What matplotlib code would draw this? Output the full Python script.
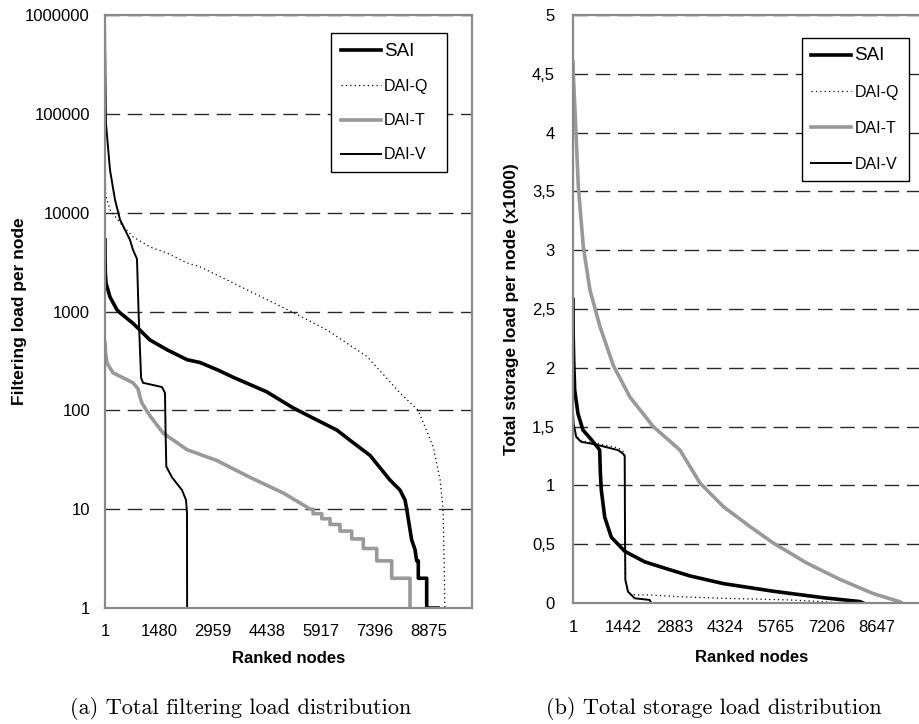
import matplotlib
matplotlib.use("Agg")
import matplotlib.pyplot as plt
from matplotlib.font_manager import FontProperties
from matplotlib.ticker import NullLocator


# ---- (a) filtering load, ranked nodes -> load (log scale)
sai_f_nodes = [1, 3, 10, 28, 138, 330, 412, 768, 1233, 1700, 2250, 2600, 3100, 3500,
               4430, 5150, 5800, 6355, 6800, 7260, 7580, 7807, 8081, 8218, 8265,
               8355, 8400, 8492, 8537, 8582, 8582, 8812, 8812, 9122]
sai_f_load = [5300, 3300, 2450, 1950, 1400, 1040, 970, 760, 515, 410, 325, 305, 255, 217,
              154, 106, 80, 63, 47, 35, 25, 19.7, 15.6, 12.4, 10,
              6.2, 4.9, 3.9, 3, 3, 2, 2, 1, 1]

daiq_f_nodes = [1, 3, 8, 20, 138, 412, 768, 1233, 1700, 2250, 2600, 4050, 5150, 6080,
                7180, 8080, 8580, 8990, 9180, 9260, 9290, 9310]
daiq_f_load = [90000, 50000, 30000, 15000, 10700, 7900, 5700, 4500, 3900, 3100, 2840,
               1550, 980, 650, 350, 150, 100, 42.6, 19.8, 10, 3, 1]

dait_f_nodes = [1, 20, 56, 220, 768, 905, 960, 1015, 1233, 1590, 2247, 3070, 3970, 4880,
                5530, 5619, 5700, 5700, 5940, 5940, 6165, 6165, 6438, 6438, 6758, 6758,
                7076, 7076, 7443, 7443, 7854, 7854, 8355, 8355]
dait_f_load = [480, 380, 300, 240, 190, 165, 136, 118, 88, 59, 40, 31, 21, 14.6,
               10.5, 10, 10, 9, 9, 8, 8, 7, 7, 6, 6, 5,
               5, 4, 4, 3, 3, 2, 2, 1]

daiv_f_nodes = [1, 5, 15, 28, 138, 275, 412, 549, 686, 768, 877, 920, 960, 990, 1042,
                1562, 1644, 1660, 1680, 1836, 2110, 2220, 2247, 2250]
daiv_f_load = [1000000, 500000, 200000, 80000, 27000, 13500, 8500, 6700, 5300, 4200,
               3400, 1000, 400, 213, 190, 172, 150, 60, 27, 21, 15.6, 12.4, 9.1, 1]

# ---- (b) storage load (x1000)
sai_s_nodes = [1, 5, 20, 49, 143, 285, 521, 712, 760, 780, 806, 903, 1090, 1471, 2040,
               2570, 3330, 4276, 5698, 7120, 8163, 8250]
sai_s_load = [2.58, 2.3, 2.07, 1.81, 1.61, 1.47, 1.39, 1.32, 1.30, 1.1, 0.96, 0.73, 0.56,
              0.44, 0.35, 0.30, 0.23, 0.165, 0.10, 0.045, 0.012, 0.0]

daiq_s_nodes = [1, 20, 95, 237, 618, 1281, 1423, 1471, 1480, 1490, 1565, 1700, 2228,
                2987, 4276, 6172, 7120, 7596]
daiq_s_load = [1.55, 1.47, 1.42, 1.38, 1.36, 1.32, 1.29, 1.27, 0.6, 0.2, 0.09, 0.07,
               0.068, 0.054, 0.04, 0.026, 0.011, 0.0]

dait_s_nodes = [1, 10, 86, 152, 294, 484, 769, 1147, 1622, 2285, 3044, 3613, 4276, 5033,
                5698, 6647, 7596, 8541, 9301, 9350]
dait_s_load = [4.6, 4.5, 4.0, 3.54, 3.03, 2.66, 2.35, 2.02, 1.75, 1.50, 1.30, 1.02, 0.82,
               0.65, 0.51, 0.34, 0.20, 0.08, 0.01, 0.0]

daiv_s_nodes = [1, 20, 95, 237, 618, 1281, 1423, 1471, 1480, 1490, 1565, 1756, 2182, 2228]
daiv_s_load = [1.62, 1.52, 1.41, 1.37, 1.35, 1.30, 1.27, 1.25, 0.6, 0.196, 0.096, 0.04,
               0.026, 0.0]

series_names = ["SAI", "DAI-Q", "DAI-T", "DAI-V"]

f_xticks = [1, 1480, 2959, 4438, 5917, 7396, 8875]
f_yticks = [1, 10, 100, 1000, 10000, 100000, 1000000]
s_xticks = [1, 1442, 2883, 4324, 5765, 7206, 8647]
s_yticks = [0, 0.5, 1, 1.5, 2, 2.5, 3, 3.5, 4, 4.5, 5]
s_yticklabels = ["0", "0,5", "1", "1,5", "2", "2,5", "3", "3,5", "4", "4,5", "5"]

STYLES = {
    "SAI": dict(color="black", lw=2.6, ls="-"),
    "DAI-Q": dict(color="black", lw=0.9, ls=(0, (1, 2.5))),
    "DAI-T": dict(color="#999999", lw=2.6, ls="-"),
    "DAI-V": dict(color="black", lw=1.4, ls="-"),
}

FONT = ["Liberation Sans", "DejaVu Sans"]

W, H = 919, 724
fig = plt.figure(figsize=(W / 100, H / 100), dpi=100)


def px_axes(left, top, right, bottom):
    return fig.add_axes([left / W, 1 - bottom / H, (right - left) / W, (bottom - top) / H])


def style_axes(ax, tick_size, ypad, xpad):
    for sp in ax.spines.values():
        sp.set_color("#8a8a8a")
        sp.set_linewidth(1.6)
    ax.tick_params(length=0)
    ax.tick_params(axis="y", pad=ypad)
    ax.tick_params(axis="x", pad=xpad)
    for lab in ax.get_xticklabels() + ax.get_yticklabels():
        lab.set_fontproperties(FontProperties(family=FONT, size=tick_size))
    ax.yaxis.grid(True, color="#2a2a2a", lw=1.0, ls=(0, (10.5, 5.5)))
    ax.xaxis.grid(False)


def add_legend(ax, x0, top, width, row_gap, size):
    leg = ax.legend(loc="upper left", bbox_to_anchor=(x0, top - 0.3, width, 0.3),
                    mode="expand", borderaxespad=0, fancybox=False, framealpha=1,
                    edgecolor="black", handlelength=2.5, handletextpad=0.2,
                    labelspacing=row_gap, borderpad=0.6,
                    prop=FontProperties(family=FONT, size=size))
    leg.get_frame().set_linewidth(1.0)
    leg.get_texts()[0].set_fontproperties(FontProperties(family=FONT, size=size + 2))
    return leg


# ---------------- (a)
ax1 = px_axes(105, 15, 472, 608)
f_data = {
    "SAI": (sai_f_nodes, sai_f_load),
    "DAI-Q": (daiq_f_nodes, daiq_f_load),
    "DAI-T": (dait_f_nodes, dait_f_load),
    "DAI-V": (daiv_f_nodes, daiv_f_load),
}
for name in series_names:
    xs, ys = f_data[name]
    ax1.plot(xs, ys, label=name, **STYLES[name])
ax1.set_yscale("log")
ax1.set_ylim(1, 1000000)
ax1.set_xlim(1, 10053)
ax1.set_yticks(f_yticks)
ax1.set_yticklabels([str(v) for v in f_yticks])
ax1.yaxis.set_minor_locator(NullLocator())
ax1.set_xticks(f_xticks)
ax1.set_xticklabels([str(v) for v in f_xticks])
style_axes(ax1, 12, 10.8, 11.3)
ax1.set_ylabel("Filtering load per node", fontsize=12.5, fontweight="bold",
               family=FONT, rotation=90, ha="center", va="center")
ax1.yaxis.set_label_coords(-0.234, 0.5)
ax1.set_xlabel("Ranked nodes", fontsize=12, fontweight="bold", family=FONT,
               ha="center", va="center")
ax1.xaxis.set_label_coords(0.5, -0.086)
add_legend(ax1, 0.6158, 0.9691, 0.3153, 1.2, 11.5)

# ---------------- (b)
ax2 = px_axes(573, 15, 930, 603)
s_data = {
    "SAI": (sai_s_nodes, sai_s_load),
    "DAI-Q": (daiq_s_nodes, daiq_s_load),
    "DAI-T": (dait_s_nodes, dait_s_load),
    "DAI-V": (daiv_s_nodes, daiv_s_load),
}
for name in series_names:
    xs, ys = s_data[name]
    ax2.plot(xs, ys, label=name, **STYLES[name])
ax2.set_ylim(0, 5)
ax2.set_xlim(1, 10154)
ax2.set_yticks(s_yticks)
ax2.set_yticklabels(s_yticklabels)
ax2.set_xticks(s_xticks)
ax2.set_xticklabels([str(v) for v in s_xticks])
style_axes(ax2, 12, 13, 12)
ax2.set_ylabel("Total storage load per node (x1000)", fontsize=12.5, fontweight="bold",
               family=FONT, rotation=90, ha="center", va="center")
ax2.yaxis.set_label_coords(-0.171, 0.5)
ax2.set_xlabel("Ranked nodes", fontsize=12, fontweight="bold", family=FONT,
               ha="center", va="center")
ax2.xaxis.set_label_coords(0.5, -0.0927)
add_legend(ax2, 0.6406, 0.9614, 0.3014, 1.3, 11.5)

# captions
fig.text(240.5 / W, 1 - 709 / H, "(a) Total filtering load distribution",
         family="cmr10", fontsize=16, ha="center", va="center")
fig.text(713.5 / W, 1 - 709 / H, "(b) Total storage load distribution",
         family="cmr10", fontsize=16, ha="center", va="center")

fig.savefig("out.png", dpi=100)
